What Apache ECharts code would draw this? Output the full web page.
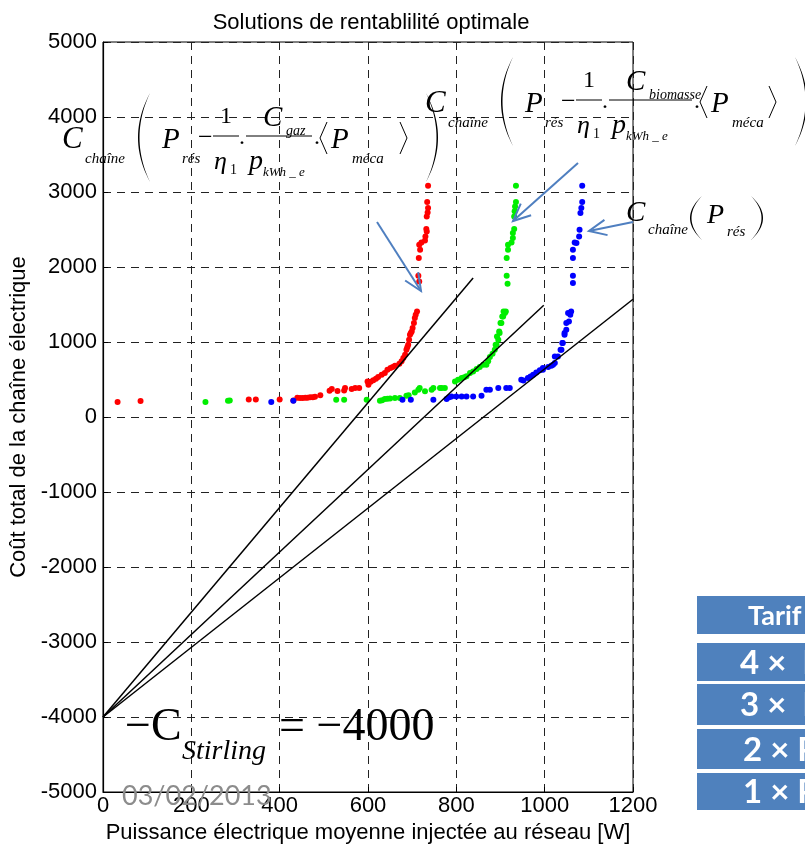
<!DOCTYPE html>
<html lang="fr">
<head>
<meta charset="UTF-8">
<script src="https://cdn.jsdelivr.net/npm/echarts@6/dist/echarts.min.js"></script>
<title>Solutions de rentablilité optimale</title>
<style>
  html, body { margin: 0; padding: 0; background: #fff; }
  #chart { width: 805px; height: 845px; }
</style>
</head>
<body>
<div id="chart"></div>
<script>
  // points: [puissance W, coût]
  const redPts = [[33,200],[85,215],[330,235],[346,235],[400,235],[431,220],[440,258],[446,253],[452,255],[458,258],[463,258],[469,262],[475,265],[480,270],[492,290],[513,351],[518,373],[531,346],[546,355],[548,386],[563,373],[571,386],[580,386],[599,475],[601,431],[606,470],[612,489],[618,510],[623,533],[631,564],[638,587],[644,631],[651,653],[656,668],[661,684],[671,711],[676,742],[680,787],[684,831],[687,897],[689,930],[691,964],[693,1031],[695,1097],[697,1120],[699,1141],[701,1187],[704,1253],[706,1320],[708,1364],[711,1408],[714,1884],[716,1808],[715,2120],[718,2231],[716,2297],[721,2328],[729,2355],[730,2408],[733,2475],[732,2507],[733,2675],[735,2728],[736,2787],[734,2867],[736,3084]];
  const greenPts = [[232,200],[283,217],[287,220],[528,231],[546,231],[597,231],[627,217],[632,225],[638,240],[644,244],[650,248],[661,253],[672,253],[687,284],[692,290],[706,328],[714,364],[717,386],[729,342],[744,364],[748,386],[763,386],[767,386],[774,386],[797,475],[804,497],[812,519],[818,530],[823,542],[831,587],[838,608],[846,640],[853,666],[861,697],[868,697],[872,742],[876,800],[882,844],[887,897],[889,964],[891,964],[892,1075],[895,1031],[897,1141],[898,1120],[900,1253],[902,1253],[904,1341],[906,1341],[907,1408],[910,1387],[912,1408],[914,1884],[916,1777],[914,2120],[917,2231],[917,2297],[925,2328],[928,2386],[928,2453],[931,2507],[931,2675],[932,2742],[933,2808],[935,2867],[935,3084]];
  const bluePts = [[381,200],[431,217],[678,231],[697,231],[748,231],[778,240],[784,262],[789,275],[800,275],[812,275],[823,275],[838,275],[857,284],[868,364],[876,364],[895,386],[913,386],[921,386],[947,497],[952,486],[962,519],[968,540],[974,564],[981,595],[989,622],[996,631],[996,653],[1008,666],[1015,684],[1019,697],[1023,720],[1023,808],[1030,808],[1036,897],[1038,897],[1040,986],[1041,986],[1045,1097],[1045,1120],[1049,1164],[1049,1253],[1053,1387],[1055,1275],[1058,1364],[1060,1408],[1064,1787],[1064,1884],[1064,2120],[1064,2231],[1068,2328],[1072,2320],[1078,2408],[1079,2497],[1081,2720],[1083,2787],[1085,2867],[1085,3084]];

  // droites partant de -C_Stirling
  const line4x = [[0,-4000],[838,1853]];
  const line3x = [[0,-4000],[998,1490]];
  const line2x = [[0,-4000],[1200,1570]];

  const xTicks = [0, 200, 400, 600, 800, 1000, 1200];
  const yTicks = [-5000, -4000, -3000, -2000, -1000, 0, 1000, 2000, 3000, 4000, 5000];
  const tarifRows = ['Tarif', '4 ×  P', '3 ×  P', '2 × P', '1 × P'];

  const SERIF = '"Liberation Serif", "DejaVu Serif", serif';

  function t(x, y, s, size, italic, extra) {
    const st = {
      text: s,
      font: (italic ? 'italic ' : '') + size + 'px ' + SERIF,
      fill: '#000',
      align: 'left', verticalAlign: 'middle',
      textAlign: 'left', textVerticalAlign: 'middle'
    };
    return Object.assign({ type: 'text', x: x, y: y, z: 100, silent: true, style: st }, extra || {});
  }
  function bar(x1, x2, y) {
    return { type: 'line', z: 100, silent: true, shape: { x1: x1, y1: y, x2: x2, y2: y }, style: { stroke: '#000', lineWidth: 1 } };
  }
  // big parenthesis drawn as a thin crescent polygon
  function paren(x, top, bottom, dir) {
    const bulge = 24 * dir;
    const th = 3 * dir;
    const pts = [];
    const n = 24;
    for (let i = 0; i <= n; i++) {
      const u = i / n;
      pts.push([x - 2 * u * (1 - u) * bulge, top + (bottom - top) * u]);
    }
    for (let i = n; i >= 0; i--) {
      const u = i / n;
      pts.push([x - 2 * u * (1 - u) * (bulge - th), top + (bottom - top) * u]);
    }
    return { type: 'polygon', z: 100, silent: true, shape: { points: pts }, style: { fill: '#000' } };
  }
  function angle(x, top, bottom, dir) {
    const mid = (top + bottom) / 2;
    return { type: 'polyline', z: 100, silent: true,
      shape: { points: [[x, top], [x - 7 * dir, mid], [x, bottom]] },
      style: { stroke: '#000', lineWidth: 1, fill: null } };
  }
  function arrow(x1, y1, x2, y2) {
    const a = Math.atan2(y2 - y1, x2 - x1);
    const L = 19, sp = 0.42;
    const p1 = [x2 - L * Math.cos(a - sp), y2 - L * Math.sin(a - sp)];
    const p2 = [x2 - L * Math.cos(a + sp), y2 - L * Math.sin(a + sp)];
    const st = { stroke: '#4F7FC0', lineWidth: 2, fill: null };
    return [
      { type: 'line', z: 110, silent: true, shape: { x1: x1, y1: y1, x2: x2, y2: y2 }, style: st },
      { type: 'polyline', z: 110, silent: true, shape: { points: [p1, [x2, y2], p2] }, style: st }
    ];
  }

  // C_chaine( P_res - 1/eta1 . C_x/p_kWh_e . <P_meca> )
  function formula(ox, oy, subName, bar2, closeX) {
    const g = [];
    g.push(t(ox, oy, 'C', 31, true));
    g.push(t(ox + 23, oy + 19, 'chaîne', 15, true));
    g.push(paren(ox + 88, oy - 47, oy + 42, 1));
    g.push(t(ox + 100, oy, 'P', 29, true));
    g.push(t(ox + 120, oy + 19, 'rés', 15, true));
    g.push(t(ox + 136, oy - 2, '−', 26, false));
    g.push(t(ox + 158, oy - 23, '1', 24, false));
    g.push(bar(ox + 151, ox + 177, oy - 4));
    g.push(t(ox + 152, oy + 22, 'η', 26, true));
    g.push(t(ox + 168, oy + 30, '1', 14, false));
    g.push(t(ox + 177, oy - 2, '.', 24, false));
    g.push(t(ox + 201, oy - 22, 'C', 29, true));
    g.push(t(ox + 224, oy - 9, subName, 14, true));
    g.push(bar(ox + 184, bar2, oy - 4));
    g.push(t(ox + 187, oy + 22, 'p', 28, true));
    g.push(t(ox + 201, oy + 33, 'kWh _ e', 13, true));
    g.push(t(bar2 + 2, oy - 2, '.', 24, false));
    g.push(angle(bar2 + 15, oy - 18, oy + 14, 1));
    g.push(t(bar2 + 19, oy, 'P', 29, true));
    g.push(t(bar2 + 40, oy + 19, 'méca', 15, true));
    g.push(angle(closeX - 28, oy - 18, oy + 14, -1));
    g.push(paren(closeX - 2, oy - 47, oy + 42, -1));
    return g;
  }

  const graphics = [];
  graphics.push(...formula(62, 140, 'gaz', 312, 428));
  graphics.push(...formula(425, 104, 'biomasse', 692, 797));
  // C_chaine(P_res)
  graphics.push(t(626, 213, 'C', 29, true));
  graphics.push(t(648, 230, 'chaîne', 15, true));
  graphics.push(paren(702, 196, 240, 1));
  graphics.push(t(707, 216, 'P', 28, true));
  graphics.push(t(727, 232, 'rés', 15, true));
  graphics.push(paren(751, 196, 240, -1));
  // arrows
  graphics.push(...arrow(377, 222, 421, 291));
  graphics.push(...arrow(578, 163, 513, 221));
  graphics.push(...arrow(633, 222, 589, 231));
  // -C_Stirling = -4000
  graphics.push(t(125, 728, '−C', 46, false));
  graphics.push(t(182, 752, 'Stirling', 28, true));
  graphics.push(t(279, 728, '= −4000', 46, false));
  // date
  graphics.push({ type: 'text', x: 122, y: 796, z: 100, silent: true,
    style: { text: '03/02/2013', font: '27px Lato, "Open Sans", sans-serif', fill: '#8c8c8c', align: 'left', verticalAlign: 'middle', textAlign: 'left', textVerticalAlign: 'middle' } });
  // table
  const rowBox = [[596, 38], [643, 38], [684, 41], [729, 40], [773, 37]];
  const rowTextX = [748, 740, 740, 743, 743];
  rowBox.forEach((b, i) => {
    graphics.push({ type: 'rect', z: 90, silent: true, shape: { x: 697, y: b[0], width: 120, height: b[1] }, style: { fill: '#4F81BD' } });
    graphics.push({ type: 'text', z: 95, silent: true, x: rowTextX[i], y: b[0] + b[1] / 2 + 1,
      style: { text: tarifRows[i], font: 'bold ' + (i === 0 ? 27 : 33) + 'px Lato, "Open Sans", sans-serif', fill: '#fff', align: 'left', verticalAlign: 'middle', textAlign: 'left', textVerticalAlign: 'middle' } });
  });

  const chart = echarts.init(document.getElementById('chart'), null, { renderer: 'canvas' });
  const dash = { type: [8, 6], color: '#222', width: 1 };
  const axisFont = { fontFamily: '"Liberation Sans", Arial, sans-serif', color: '#000' };

  const scatter = (name, pts, color) => ({
    name: name, type: 'scatter', data: pts, symbol: 'circle', symbolSize: 6,
    itemStyle: { color: color, opacity: 1 }, silent: true, z: 3
  });
  const straight = (name, pts) => ({
    name: name, type: 'line', data: pts, showSymbol: false, symbol: 'none',
    lineStyle: { color: '#000', width: 1.5 }, silent: true, z: 4
  });

  chart.setOption({
    animation: false,
    backgroundColor: '#fff',
    title: {
      text: 'Solutions de rentablilité optimale',
      left: 366, top: 7, textAlign: 'center',
      textStyle: Object.assign({ fontSize: 22, fontWeight: 'normal' }, axisFont)
    },
    grid: { left: 103, right: 172, top: 42, bottom: 53, show: true, borderColor: '#000', borderWidth: 1, containLabel: false, outerBoundsMode: 'none' },
    xAxis: {
      type: 'value', min: xTicks[0], max: xTicks[xTicks.length - 1], interval: 200,
      name: 'Puissance électrique moyenne injectée au réseau [W]',
      nameLocation: 'middle', nameGap: 29,
      nameTextStyle: Object.assign({ fontSize: 22 }, axisFont),
      axisLine: { onZero: false, lineStyle: { color: '#000', width: 1.2 } },
      axisTick: { inside: true, length: 5, lineStyle: { color: '#000' } },
      axisLabel: Object.assign({ fontSize: 22, margin: 3, formatter: (v) => String(v) }, axisFont),
      splitLine: { show: true, lineStyle: dash }
    },
    yAxis: {
      type: 'value', min: yTicks[0], max: yTicks[yTicks.length - 1], interval: 1000,
      name: 'Coût total de la chaîne électrique',
      nameLocation: 'middle', nameGap: 64, nameRotate: 90,
      nameTextStyle: Object.assign({ fontSize: 22 }, axisFont),
      axisLine: { onZero: false, lineStyle: { color: '#000', width: 1.2 } },
      axisTick: { inside: true, length: 5, lineStyle: { color: '#000' } },
      axisLabel: Object.assign({ fontSize: 22, margin: 6, formatter: (v) => String(v) }, axisFont),
      splitLine: { show: true, lineStyle: dash }
    },
    series: [
      scatter('gaz', redPts, '#ff0000'),
      scatter('biomasse', greenPts, '#00ee00'),
      scatter('réseau', bluePts, '#0000ff'),
      straight('4×', line4x),
      straight('3×', line3x),
      straight('2×', line2x)
    ],
    graphic: graphics
  });
</script>
</body>
</html>
